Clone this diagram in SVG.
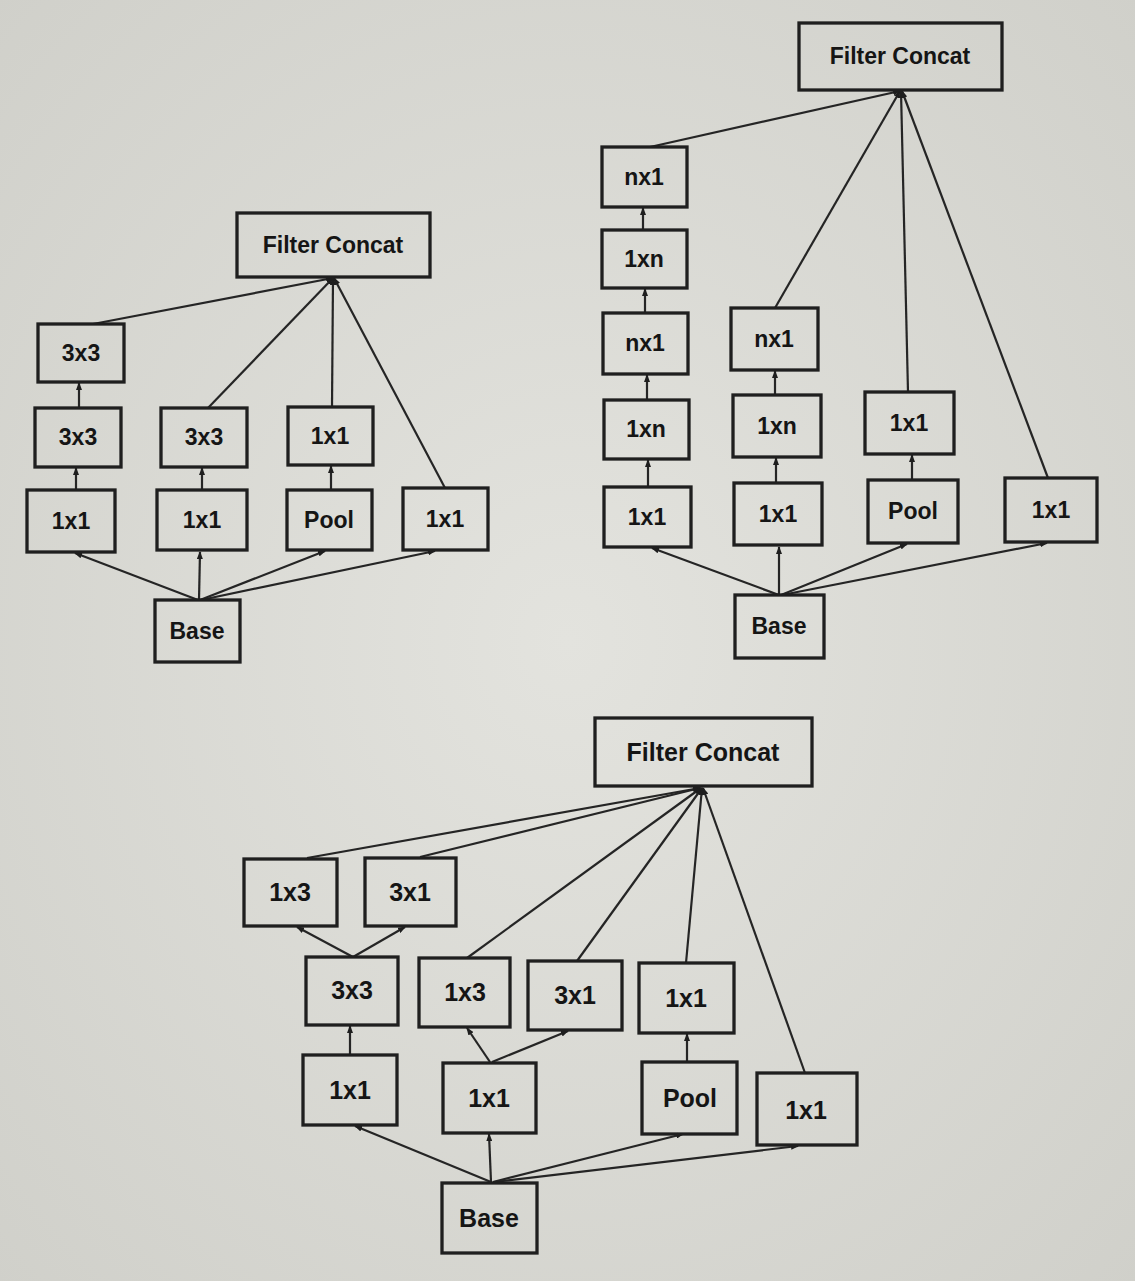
<svg xmlns="http://www.w3.org/2000/svg" width="1135" height="1281" viewBox="0 0 1135 1281">
<defs>
<radialGradient id="paper" cx="50%" cy="50%" r="75%">
<stop offset="0" stop-color="#e3e3de"/>
<stop offset="1" stop-color="#cfcfc9"/>
</radialGradient>
<marker id="ah" markerUnits="userSpaceOnUse" markerWidth="8" markerHeight="6" refX="7" refY="3" orient="auto">
<path d="M0,0 L8,3 L0,6 z" fill="#1e1e1e"/>
</marker>
<style>
.box{fill:none;stroke:#1f1f1f;stroke-width:3.3;}
.t{font-family:"Liberation Sans",Arial,sans-serif;font-weight:bold;fill:#151515;text-anchor:middle;}
.s1{font-size:23px;}
.s3{font-size:25px;}
.c line{stroke:#252525;stroke-width:2.2;marker-end:url(#ah);}
</style>
</defs>
<rect x="0" y="0" width="1135" height="1281" fill="url(#paper)"/>

<g id="connectors" class="c">
<!-- diagram 1 -->
<line x1="198" y1="600" x2="75" y2="553"/>
<line x1="199" y1="600" x2="200" y2="552"/>
<line x1="200" y1="600" x2="325" y2="551"/>
<line x1="201" y1="600" x2="435" y2="551"/>
<line x1="76" y1="490" x2="76" y2="468"/>
<line x1="79" y1="408" x2="79" y2="383"/>
<line x1="202" y1="490" x2="202" y2="468"/>
<line x1="331" y1="490" x2="331" y2="466"/>
<line x1="93" y1="324" x2="333" y2="278"/>
<line x1="208" y1="408" x2="333" y2="278"/>
<line x1="332" y1="407" x2="333" y2="278"/>
<line x1="445" y1="488" x2="334" y2="278"/>
<!-- diagram 2 -->
<line x1="779" y1="595" x2="652" y2="548"/>
<line x1="779" y1="595" x2="779" y2="547"/>
<line x1="781" y1="595" x2="907" y2="544"/>
<line x1="782" y1="595" x2="1047" y2="543"/>
<line x1="648" y1="487" x2="648" y2="460"/>
<line x1="647" y1="400" x2="647" y2="375"/>
<line x1="645" y1="313" x2="645" y2="289"/>
<line x1="643" y1="230" x2="643" y2="208"/>
<line x1="650" y1="147" x2="900" y2="91"/>
<line x1="776" y1="483" x2="776" y2="458"/>
<line x1="775" y1="395" x2="775" y2="371"/>
<line x1="775" y1="308" x2="900" y2="91"/>
<line x1="912" y1="480" x2="912" y2="455"/>
<line x1="908" y1="392" x2="901" y2="91"/>
<line x1="1048" y1="478" x2="902" y2="91"/>
<!-- diagram 3 -->
<line x1="491" y1="1182" x2="355" y2="1126"/>
<line x1="491" y1="1182" x2="489" y2="1134"/>
<line x1="493" y1="1182" x2="683" y2="1134"/>
<line x1="494" y1="1182" x2="798" y2="1146"/>
<line x1="350" y1="1055" x2="350" y2="1026"/>
<line x1="490" y1="1062" x2="467" y2="1028"/>
<line x1="492" y1="1062" x2="568" y2="1031"/>
<line x1="687" y1="1062" x2="687" y2="1034"/>
<line x1="353" y1="957" x2="297" y2="927"/>
<line x1="353" y1="957" x2="405" y2="927"/>
<line x1="307" y1="858" x2="700" y2="788"/>
<line x1="420" y1="857" x2="700" y2="788"/>
<line x1="467" y1="958" x2="701" y2="788"/>
<line x1="577" y1="961" x2="702" y2="788"/>
<line x1="686" y1="963" x2="702" y2="788"/>
<line x1="805" y1="1073" x2="703" y2="788"/>
</g>

<!-- diagram 1 nodes -->
<g id="d1-concat"><rect class="box" x="237" y="213" width="193" height="64"/><text class="t s1" x="333" y="253">Filter Concat</text></g>
<g id="d1-3x3-top"><rect class="box" x="38" y="324" width="86" height="58"/><text class="t s1" x="81" y="361">3x3</text></g>
<g id="d1-3x3-mid"><rect class="box" x="35" y="408" width="86" height="59"/><text class="t s1" x="78" y="445">3x3</text></g>
<g id="d1-1x1-a"><rect class="box" x="27" y="490" width="88" height="62"/><text class="t s1" x="71" y="529">1x1</text></g>
<g id="d1-3x3-b"><rect class="box" x="161" y="408" width="86" height="59"/><text class="t s1" x="204" y="445">3x3</text></g>
<g id="d1-1x1-b"><rect class="box" x="157" y="490" width="90" height="60"/><text class="t s1" x="202" y="528">1x1</text></g>
<g id="d1-1x1-c"><rect class="box" x="288" y="407" width="85" height="58"/><text class="t s1" x="330" y="444">1x1</text></g>
<g id="d1-pool"><rect class="box" x="287" y="490" width="85" height="60"/><text class="t s1" x="329" y="528">Pool</text></g>
<g id="d1-1x1-d"><rect class="box" x="403" y="488" width="85" height="62"/><text class="t s1" x="445" y="527">1x1</text></g>
<g id="d1-base"><rect class="box" x="155" y="600" width="85" height="62"/><text class="t s1" x="197" y="639">Base</text></g>

<!-- diagram 2 nodes -->
<g id="d2-concat"><rect class="box" x="799" y="23" width="203" height="67"/><text class="t s1" x="900" y="64">Filter Concat</text></g>
<g id="d2-nx1-a1"><rect class="box" x="602" y="147" width="85" height="60"/><text class="t s1" x="644" y="185">nx1</text></g>
<g id="d2-1xn-a1"><rect class="box" x="602" y="230" width="85" height="58"/><text class="t s1" x="644" y="267">1xn</text></g>
<g id="d2-nx1-a2"><rect class="box" x="603" y="313" width="85" height="61"/><text class="t s1" x="645" y="351">nx1</text></g>
<g id="d2-1xn-a2"><rect class="box" x="604" y="400" width="85" height="59"/><text class="t s1" x="646" y="437">1xn</text></g>
<g id="d2-1x1-a"><rect class="box" x="604" y="487" width="87" height="60"/><text class="t s1" x="647" y="525">1x1</text></g>
<g id="d2-nx1-b"><rect class="box" x="731" y="308" width="87" height="62"/><text class="t s1" x="774" y="347">nx1</text></g>
<g id="d2-1xn-b"><rect class="box" x="733" y="395" width="88" height="62"/><text class="t s1" x="777" y="434">1xn</text></g>
<g id="d2-1x1-b"><rect class="box" x="734" y="483" width="88" height="62"/><text class="t s1" x="778" y="522">1x1</text></g>
<g id="d2-1x1-c"><rect class="box" x="865" y="392" width="89" height="62"/><text class="t s1" x="909" y="431">1x1</text></g>
<g id="d2-pool"><rect class="box" x="868" y="480" width="90" height="63"/><text class="t s1" x="913" y="519">Pool</text></g>
<g id="d2-1x1-d"><rect class="box" x="1005" y="478" width="92" height="64"/><text class="t s1" x="1051" y="518">1x1</text></g>
<g id="d2-base"><rect class="box" x="735" y="595" width="89" height="63"/><text class="t s1" x="779" y="634">Base</text></g>

<!-- diagram 3 nodes -->
<g id="d3-concat"><rect class="box" x="595" y="718" width="217" height="68"/><text class="t s3" x="703" y="761">Filter Concat</text></g>
<g id="d3-1x3-top"><rect class="box" x="244" y="859" width="93" height="67"/><text class="t s3" x="290" y="901">1x3</text></g>
<g id="d3-3x1-top"><rect class="box" x="365" y="858" width="91" height="68"/><text class="t s3" x="410" y="901">3x1</text></g>
<g id="d3-3x3"><rect class="box" x="306" y="957" width="92" height="68"/><text class="t s3" x="352" y="999">3x3</text></g>
<g id="d3-1x3"><rect class="box" x="419" y="958" width="91" height="69"/><text class="t s3" x="465" y="1001">1x3</text></g>
<g id="d3-3x1"><rect class="box" x="528" y="961" width="94" height="69"/><text class="t s3" x="575" y="1004">3x1</text></g>
<g id="d3-1x1-c"><rect class="box" x="639" y="963" width="95" height="70"/><text class="t s3" x="686" y="1007">1x1</text></g>
<g id="d3-1x1-a"><rect class="box" x="303" y="1055" width="94" height="70"/><text class="t s3" x="350" y="1099">1x1</text></g>
<g id="d3-1x1-b"><rect class="box" x="443" y="1063" width="93" height="70"/><text class="t s3" x="489" y="1107">1x1</text></g>
<g id="d3-pool"><rect class="box" x="642" y="1062" width="95" height="72"/><text class="t s3" x="690" y="1107">Pool</text></g>
<g id="d3-1x1-d"><rect class="box" x="757" y="1073" width="100" height="72"/><text class="t s3" x="806" y="1119">1x1</text></g>
<g id="d3-base"><rect class="box" x="442" y="1183" width="95" height="70"/><text class="t s3" x="489" y="1227">Base</text></g>
</svg>
